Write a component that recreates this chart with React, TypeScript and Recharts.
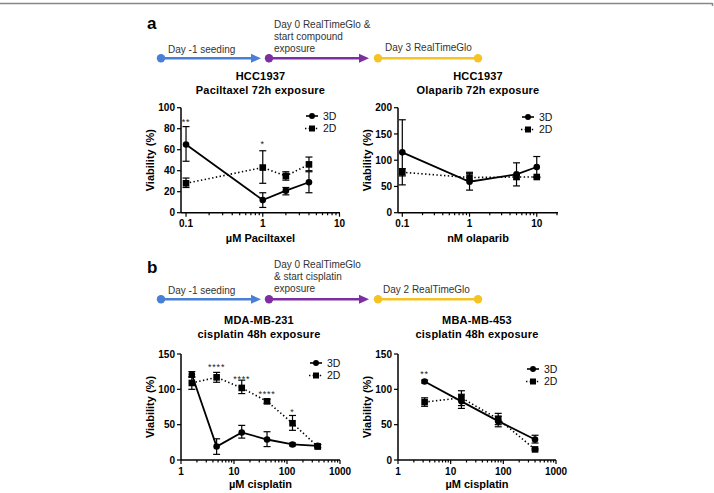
import React from "react";
import { ErrorBar, Legend, Line, LineChart, ReferenceDot, XAxis, YAxis } from "recharts";

const FONT = "'Liberation Sans', Arial, Helvetica, sans-serif";

// a: HCC1937, paclitaxel 72 h (µM)
const paclitaxelDose = [0.1, 1, 2, 4];
const paclitaxel3D = [65, 12, 21, 29];
const paclitaxel3DErr = [[16, 17], [7, 7], [4, 3], [10, 10]];
const paclitaxel2D = [28, 43, 35, 46];
const paclitaxel2DErr = [[4, 5], [15, 16], [4, 4], [6, 7]];
const paclitaxelSig = [
  { dose: 0.1, y: 88, mark: "**" },
  { dose: 1, y: 67, mark: "*" },
];

// a: HCC1937, olaparib 72 h (nM)
const olaparibDose = [0.1, 1, 5, 10];
const olaparib3D = [115, 59, 73, 87];
const olaparib3DErr = [[62, 62], [16, 16], [22, 22], [20, 20]];
const olaparib2D = [77, 67, 68, 68];
const olaparib2DErr = [[7, 7], [5, 10], [4, 4], [0, 0]];

// b: MDA-MB-231, cisplatin 48 h (µM)
const cis231Dose = [1.6, 4.7, 14, 42, 127, 380];
const cis231_3D = [121, 19, 39, 29, 22, 20];
const cis231_3DErr = [[4, 4], [11, 11], [8, 10], [10, 11], [2, 2], [2, 2]];
const cis231_2D = [109, 117, 102, 83, 52, 19];
const cis231_2DErr = [[9, 9], [7, 7], [8, 11], [3, 3], [10, 11], [2, 3]];
const cis231Sig = [
  { dose: 4.7, y: 135, mark: "****" },
  { dose: 14, y: 118, mark: "****" },
  { dose: 42, y: 96, mark: "****" },
  { dose: 127, y: 71, mark: "*" },
];

// b: MBA-MB-453, cisplatin 48 h (µM)
const cis453Dose = [3.2, 16, 80, 400];
const cis453_3D = [111, 83, 55, 29];
const cis453_3DErr = [[2, 2], [10, 10], [8, 7], [5, 6]];
const cis453_2D = [82, 88, 58, 15];
const cis453_2DErr = [[6, 6], [11, 10], [8, 8], [1, 1]];
const cis453Sig = [{ dose: 3.2, y: 125, mark: "**" }];

const xLabelsA = [0.1, 1, 10];
const xLabelsB = [1, 10, 100, 1000];
const yTicksPac = [0, 20, 40, 60, 80, 100];
const yTicksOla = [0, 50, 100, 150, 200];
const yTicksCis = [0, 50, 100, 150];

const BLUE = "#4a7fd6";
const PURPLE = "#7d2fa2";
const GOLD = "#f6c324";

type Row = { dose: number; v3d: number; e3d: number[]; v2d: number; e2d: number[] };
type Sig = { dose: number; y: number; mark: string };

const rows = (dose: number[], m3: number[], e3: number[][], m2: number[], e2: number[][]): Row[] =>
  dose.map((d, i) => ({ dose: d, v3d: m3[i], e3d: e3[i], v2d: m2[i], e2d: e2[i] }));

// unlabeled 2..9 ticks inside each decade
const minorTicks = (decades: number[], extra: number[] = []) => {
  const out: number[] = [];
  decades.slice(0, -1).forEach((d) => {
    for (let k = 2; k <= 9; k++) out.push(+(d * k).toPrecision(3));
  });
  return out.concat(extra);
};

function LogTick(props: any) {
  const { x, y, payload, major } = props;
  const isMajor = major.includes(payload.value);
  return (
    <g>
      <line x1={x} x2={x} y1={y} y2={y + (isMajor ? 4 : 2.5)} stroke="#000" strokeWidth={1.2} />
      {isMajor && (
        <text x={x} y={y + 14.5} textAnchor="middle" fontSize={10} fontWeight={700} fill="#000">
          {String(payload.value)}
        </text>
      )}
    </g>
  );
}

const SquareDot = (p: any) => (
  <rect key={`sq-${p.index}`} x={p.cx - 3.3} y={p.cy - 3.3} width={6.6} height={6.6} fill="#000" />
);

function SeriesKey() {
  return (
    <svg width={50} height={28} style={{ display: "block", overflow: "visible" }}>
      <line x1={2} x2={14} y1={6} y2={6} stroke="#000" strokeWidth={1.6} />
      <circle cx={8} cy={6} r={3} fill="#000" />
      <text x={19} y={9.7} fontSize={10.5} fill="#111">3D</text>
      <line x1={1} x2={15} y1={18.5} y2={18.5} stroke="#000" strokeWidth={1.4} strokeDasharray="1.4 2.2" />
      <rect x={5} y={15.5} width={6} height={6} fill="#000" />
      <text x={19} y={22.2} fontSize={10.5} fill="#111">2D</text>
    </svg>
  );
}

type PanelProps = {
  left: number;
  top: number;
  width: number;
  height: number;
  yW: number;
  mTop: number;
  mRight: number;
  xH: number;
  xTitleOffset: number;
  data: Row[];
  xDomain: [number, number];
  xMajor: number[];
  xMinor: number[];
  yDomain: [number, number];
  yTicks: number[];
  xTitle: string;
  sig: Sig[];
  keyAt: { left: number; top: number };
};

function ViabilityPanel(p: PanelProps) {
  const ticks = [...p.xMajor, ...p.xMinor].sort((a, b) => a - b);
  return (
    <div style={{ position: "absolute", left: p.left, top: p.top }}>
      <LineChart
        width={p.width}
        height={p.height}
        data={p.data}
        margin={{ top: p.mTop, right: p.mRight, bottom: 0, left: 0 }}
      >
        <XAxis
          dataKey="dose"
          type="number"
          scale="log"
          domain={p.xDomain}
          allowDataOverflow
          ticks={ticks}
          interval={0}
          height={p.xH}
          tickSize={0}
          tickMargin={0}
          tickLine={false}
          axisLine={{ stroke: "#000", strokeWidth: 1.5 }}
          tick={(t: any) => <LogTick {...t} major={p.xMajor} />}
          label={{
            value: p.xTitle,
            position: "insideBottom",
            offset: p.xTitleOffset,
            fill: "#000",
            fontSize: 11,
            fontWeight: 700,
          }}
        />
        <YAxis
          type="number"
          domain={p.yDomain}
          ticks={p.yTicks}
          interval={0}
          width={p.yW}
          tickSize={4}
          tickMargin={2}
          axisLine={{ stroke: "#000", strokeWidth: 1.5 }}
          tickLine={{ stroke: "#000", strokeWidth: 1.2 }}
          tick={{ fill: "#000", fontSize: 10, fontWeight: 700 }}
          label={{
            value: "Viability (%)",
            angle: -90,
            position: "center",
            fill: "#000",
            fontSize: 11,
            fontWeight: 700,
          }}
        />
        <Legend
          layout="vertical"
          align="center"
          verticalAlign="middle"
          wrapperStyle={{ left: p.keyAt.left, top: p.keyAt.top, width: 50, height: 28 }}
          content={() => <SeriesKey />}
        />
        <Line
          dataKey="v2d"
          name="2D"
          stroke="#000"
          strokeWidth={1.6}
          strokeDasharray="1.4 2.4"
          dot={SquareDot}
          activeDot={false}
          isAnimationActive={false}
        >
          <ErrorBar dataKey="e2d" direction="y" width={3.5} stroke="#000" strokeWidth={1.2} />
        </Line>
        <Line
          dataKey="v3d"
          name="3D"
          stroke="#000"
          strokeWidth={1.8}
          dot={{ r: 3.3, fill: "#000", stroke: "#000", strokeWidth: 0 }}
          activeDot={false}
          isAnimationActive={false}
        >
          <ErrorBar dataKey="e3d" direction="y" width={3.5} stroke="#000" strokeWidth={1.2} />
        </Line>
        {p.sig.map((s, i) => (
          <ReferenceDot
            key={`sig-${i}`}
            x={s.dose}
            y={s.y}
            r={0}
            ifOverflow="visible"
            shape={(d: any) => (
              <text
                x={d.cx}
                y={d.cy + 5}
                textAnchor="middle"
                fontSize={9}
                letterSpacing={0.8}
                fill="#222"
              >
                {s.mark}
              </text>
            )}
          />
        ))}
      </LineChart>
    </div>
  );
}

function Timeline({ y }: { y: number }) {
  return (
    <g>
      <line x1={161} x2={253} y1={y} y2={y} stroke={BLUE} strokeWidth={2.6} />
      <polygon points={`261,${y} 251,${y - 4.5} 251,${y + 4.5}`} fill={BLUE} />
      <circle cx={161} cy={y} r={4.2} fill={BLUE} />
      <line x1={269} x2={361} y1={y} y2={y} stroke={PURPLE} strokeWidth={2.6} />
      <polygon points={`369,${y} 359,${y - 4.5} 359,${y + 4.5}`} fill={PURPLE} />
      <circle cx={269} cy={y} r={4.2} fill={PURPLE} />
      <line x1={378} x2={478} y1={y} y2={y} stroke={GOLD} strokeWidth={2.6} />
      <circle cx={378} cy={y} r={4.2} fill={GOLD} />
      <circle cx={478} cy={y} r={4.2} fill={GOLD} />
    </g>
  );
}

function Figure() {
  const note = { fontSize: 10, fill: "#333" };
  const title = { fontSize: 11, fontWeight: 700, fill: "#000", textAnchor: "middle" as const, letterSpacing: 0.2 };
  return (
    <svg width={714} height={493} style={{ position: "absolute", left: 0, top: 0 }}>
      <line x1={0} x2={712.5} y1={3.5} y2={3.5} stroke="#888" strokeWidth={1.5} />
      <line x1={712.5} x2={712.5} y1={3} y2={6} stroke="#888" strokeWidth={1.5} />

      <text x={147} y={29} fontSize={17} fontWeight={700} fill="#000">a</text>
      <Timeline y={58.3} />
      <text x={168} y={52.7} {...note}>Day -1 seeding</text>
      <text x={274} y={27.7} {...note}>Day 0 RealTimeGlo &amp;</text>
      <text x={274} y={39.5} {...note}>start compound</text>
      <text x={274} y={51.5} {...note}>exposure</text>
      <text x={385} y={50.7} {...note}>Day 3 RealTimeGlo</text>
      <text x={260.5} y={80} {...title}>HCC1937</text>
      <text x={260.5} y={93.5} {...title}>Paciltaxel 72h exposure</text>
      <text x={478} y={80} {...title}>HCC1937</text>
      <text x={478} y={93.5} {...title}>Olaparib 72h exposure</text>

      <text x={147} y={273} fontSize={17} fontWeight={700} fill="#000">b</text>
      <Timeline y={299.3} />
      <text x={168} y={294} {...note}>Day -1 seeding</text>
      <text x={274} y={267.7} {...note}>Day 0 RealTimeGlo</text>
      <text x={274} y={279.5} {...note}>&amp; start cisplatin</text>
      <text x={274} y={291.5} {...note}>exposure</text>
      <text x={383} y={293.3} {...note}>Day 2 RealTimeGlo</text>
      <text x={259} y={324} {...title}>MDA-MB-231</text>
      <text x={259} y={337.7} {...title}>cisplatin 48h exposure</text>
      <text x={477} y={324} {...title}>MBA-MB-453</text>
      <text x={477} y={337.7} {...title}>cisplatin 48h exposure</text>
    </svg>
  );
}

export default function App() {
  return (
    <div
      style={{
        position: "absolute",
        left: 0,
        top: 0,
        width: 714,
        height: 493,
        background: "#fff",
        fontFamily: FONT,
        overflow: "hidden",
      }}
    >
      <Figure />
      <ViabilityPanel
        left={120}
        top={100}
        width={240}
        height={150}
        yW={61}
        mTop={7.7}
        mRight={20}
        xH={37.3}
        xTitleOffset={8}
        data={rows(paclitaxelDose, paclitaxel3D, paclitaxel3DErr, paclitaxel2D, paclitaxel2DErr)}
        xDomain={[0.086, 10.15]}
        xMajor={xLabelsA}
        xMinor={minorTicks(xLabelsA)}
        yDomain={[0, 100]}
        yTicks={yTicksPac}
        xTitle="µM Paciltaxel"
        sig={paclitaxelSig}
        keyAt={{ left: 183.7, top: 9.7 }}
      />
      <ViabilityPanel
        left={337}
        top={100}
        width={240}
        height={150}
        yW={61}
        mTop={7.7}
        mRight={19}
        xH={37.3}
        xTitleOffset={8}
        data={rows(olaparibDose, olaparib3D, olaparib3DErr, olaparib2D, olaparib2DErr)}
        xDomain={[0.0863, 20.7]}
        xMajor={xLabelsA}
        xMinor={minorTicks(xLabelsA, [20])}
        yDomain={[0, 200]}
        yTicks={yTicksOla}
        xTitle="nM olaparib"
        sig={[]}
        keyAt={{ left: 183, top: 10.5 }}
      />
      <ViabilityPanel
        left={120}
        top={346}
        width={240}
        height={147}
        yW={61}
        mTop={8}
        mRight={20}
        xH={33}
        xTitleOffset={5}
        data={rows(cis231Dose, cis231_3D, cis231_3DErr, cis231_2D, cis231_2DErr)}
        xDomain={[1, 1000]}
        xMajor={xLabelsB}
        xMinor={minorTicks(xLabelsB)}
        yDomain={[0, 150]}
        yTicks={yTicksCis}
        xTitle="µM cisplatin"
        sig={cis231Sig}
        keyAt={{ left: 188, top: 10.7 }}
      />
      <ViabilityPanel
        left={337}
        top={346}
        width={240}
        height={147}
        yW={61}
        mTop={8}
        mRight={21}
        xH={33}
        xTitleOffset={5}
        data={rows(cis453Dose, cis453_3D, cis453_3DErr, cis453_2D, cis453_2DErr)}
        xDomain={[1, 1000]}
        xMajor={xLabelsB}
        xMinor={minorTicks(xLabelsB)}
        yDomain={[0, 150]}
        yTicks={yTicksCis}
        xTitle="µM cisplatin"
        sig={cis453Sig}
        keyAt={{ left: 188, top: 17.3 }}
      />
    </div>
  );
}
